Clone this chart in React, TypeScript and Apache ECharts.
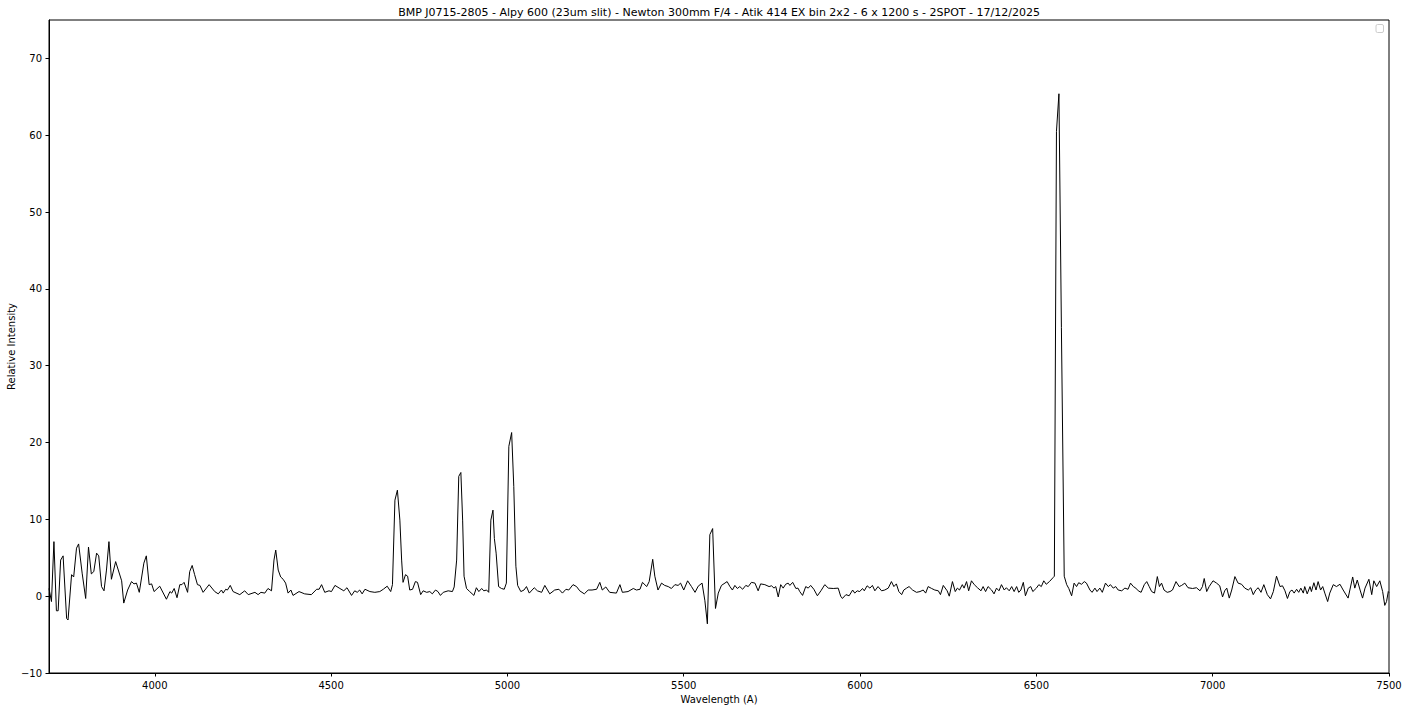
import React, { useEffect, useRef } from "react";
import * as echarts from "echarts";

const titleText =
  "BMP J0715-2805 - Alpy 600 (23um slit) - Newton 300mm F/4 - Atik 414 EX bin 2x2 - 6 x 1200 s - 2SPOT - 17/12/2025";
const xLabel = "Wavelength (A)";
const yLabel = "Relative Intensity";
const xTicks = [4000, 4500, 5000, 5500, 6000, 6500, 7000, 7500];
const yTicks = [-10, 0, 10, 20, 30, 40, 50, 60, 70];

const wavelengths = [
  3700, 3707, 3714, 3721, 3726, 3733, 3740, 3750, 3754, 3764, 3770, 3778, 3784, 3794, 3804, 3812, 3820, 3827, 3835, 3841,
  3849, 3856, 3863, 3870, 3877, 3889, 3906, 3912, 3923, 3934, 3941, 3948, 3956, 3969, 3976, 3984, 3991, 3998, 4014, 4033,
  4043, 4048, 4055, 4063, 4071, 4077, 4083, 4093, 4099, 4106, 4113, 4121, 4128, 4137, 4154, 4170, 4180, 4189, 4194, 4201,
  4206, 4214, 4222, 4241, 4255, 4265, 4284, 4293, 4301, 4312, 4321, 4331, 4338, 4343, 4350, 4357, 4364, 4371, 4378, 4386,
  4392, 4409, 4425, 4444, 4459, 4466, 4473, 4482, 4494, 4501, 4511, 4525, 4536, 4545, 4558, 4567, 4574, 4581, 4588, 4596,
  4610, 4624, 4638, 4648, 4659, 4669, 4674, 4681, 4688, 4695, 4700, 4704, 4711, 4717, 4723, 4731, 4739, 4745, 4754, 4761,
  4771, 4780, 4787, 4796, 4803, 4810, 4818, 4832, 4844, 4849, 4856, 4862, 4868, 4873, 4877, 4884, 4893, 4905, 4912, 4919,
  4927, 4933, 4941, 4947, 4953, 4959, 4963, 4968, 4975, 4983, 4991, 4997, 5004, 5012, 5018, 5024, 5029, 5038, 5047, 5054,
  5062, 5076, 5085, 5097, 5106, 5120, 5134, 5146, 5156, 5166, 5174, 5186, 5196, 5205, 5218, 5229, 5240, 5253, 5262, 5269,
  5279, 5290, 5309, 5319, 5326, 5342, 5357, 5366, 5376, 5383, 5395, 5402, 5412, 5418, 5427, 5437, 5446, 5456, 5465, 5475,
  5484, 5491, 5500, 5511, 5522, 5532, 5541, 5552, 5560, 5567, 5574, 5582, 5590, 5598, 5607, 5623, 5631, 5638, 5645, 5652,
  5659, 5667, 5676, 5683, 5692, 5702, 5711, 5718, 5730, 5742, 5749, 5756, 5761, 5768, 5775, 5782, 5789, 5796, 5801, 5809,
  5818, 5824, 5829, 5837, 5846, 5853, 5860, 5869, 5879, 5889, 5900, 5910, 5924, 5938, 5945, 5950, 5960, 5969, 5979, 5985,
  5992, 5999, 6007, 6012, 6020, 6028, 6035, 6042, 6051, 6061, 6070, 6080, 6089, 6096, 6103, 6110, 6118, 6124, 6132, 6139,
  6149, 6160, 6170, 6179, 6186, 6193, 6203, 6212, 6222, 6228, 6236, 6247, 6253, 6262, 6270, 6276, 6282, 6290, 6295, 6302,
  6308, 6316, 6324, 6333, 6343, 6349, 6356, 6363, 6373, 6380, 6387, 6394, 6401, 6409, 6415, 6423, 6430, 6437, 6444, 6450,
  6456, 6463, 6469, 6477, 6484, 6490, 6500, 6507, 6514, 6521, 6528, 6537, 6547, 6551, 6557, 6564, 6571, 6579, 6586, 6592,
  6600, 6607, 6614, 6620, 6628, 6636, 6642, 6652, 6658, 6666, 6672, 6680, 6687, 6696, 6704, 6710, 6718, 6725, 6732, 6742,
  6751, 6760, 6767, 6775, 6782, 6789, 6797, 6806, 6813, 6820, 6827, 6835, 6843, 6849, 6855, 6862, 6871, 6879, 6886, 6896,
  6905, 6912, 6921, 6930, 6943, 6954, 6964, 6971, 6976, 6983, 6990, 7001, 7011, 7020, 7028, 7034, 7040, 7047, 7054, 7063,
  7072, 7082, 7091, 7101, 7108, 7115, 7122, 7129, 7137, 7145, 7155, 7164, 7172, 7181, 7191, 7198, 7205, 7212, 7219, 7225,
  7231, 7238, 7244, 7250, 7257, 7261, 7268, 7276, 7280, 7287, 7293, 7299, 7306, 7312, 7318, 7326, 7332, 7342, 7351, 7361,
  7370, 7384, 7397, 7403, 7410, 7418, 7425, 7432, 7443, 7451, 7457, 7465, 7474, 7482, 7488, 7493, 7498, 7500,
];

const intensity = [
  1.0, -0.7, 7.1, -1.9, -1.9, 4.7, 5.25, -2.9, -3.1, 2.8, 2.5, 6.25, 6.8, 3.0, -0.3, 6.4, 2.9, 3.2, 5.6, 5.25,
  1.25, 0.7, 3.4, 7.1, 2.2, 4.5, 2.0, -0.9, 0.8, 1.9, 1.6, 1.7, 0.5, 4.3, 5.25, 1.5, 1.6, 0.6, 1.3, -0.4,
  0.6, 0.4, 1.0, -0.2, 1.5, 1.5, 1.8, 0.5, 3.2, 4.0, 2.8, 1.5, 1.4, 0.5, 1.5, 0.6, 0.3, 0.8, 0.4, 0.9,
  0.8, 1.4, 0.6, 0.2, 0.7, 0.2, 0.5, 0.2, 0.5, 0.4, 1.0, 0.7, 4.7, 6.0, 3.4, 2.5, 2.2, 1.7, 0.4, 0.8,
  0.1, 0.6, 0.3, 0.2, 0.9, 0.9, 1.5, 0.5, 0.7, 0.6, 1.4, 1.0, 0.7, 1.1, 0.1, 0.7, 0.5, 0.8, 0.3, 0.9,
  0.6, 0.5, 0.6, 0.9, 1.3, 0.6, 1.5, 12.5, 13.8, 9.9, 4.7, 1.8, 2.8, 2.6, 0.8, 0.9, 1.9, 1.8, 0.2, 0.7,
  0.5, 0.6, 0.3, 0.8, 0.6, 0.1, 0.5, 0.7, 0.6, 1.2, 4.7, 15.6, 16.1, 9.9, 2.6, 1.0, 0.6, 0.1, 1.1, 0.6,
  1.0, 0.7, 0.8, 0.5, 9.9, 11.2, 7.5, 5.6, 1.25, 1.0, 0.9, 1.7, 19.5, 21.3, 14.3, 3.9, 1.4, 0.6, 0.8, 1.25,
  0.4, 1.1, 0.7, 0.5, 1.4, 0.3, 0.8, 0.9, 0.4, 0.9, 0.8, 1.5, 1.25, 0.7, 0.3, 0.8, 0.8, 0.9, 1.8, 0.8,
  1.2, 0.5, 0.4, 1.5, 0.5, 0.6, 1.0, 0.8, 0.9, 1.8, 1.25, 1.9, 4.8, 2.6, 0.8, 1.7, 1.4, 1.25, 1.0, 1.5,
  1.4, 1.7, 0.8, 2.0, 1.25, 0.5, 1.3, 1.7, -0.6, -3.6, 8.0, 8.8, -1.6, 0.4, 1.4, 1.9, 1.25, 0.8, 1.4, 1.0,
  1.25, 0.9, 1.4, 1.25, 1.8, 1.7, 0.7, 1.6, 1.5, 1.25, 1.35, 1.05, 1.25, -0.1, 1.5, 1.05, 1.55, 1.7, 1.4, 1.8,
  1.0, 1.05, 0.6, 0.1, 1.25, 1.05, 1.4, 0.9, 0.05, 0.7, 1.5, 1.05, 1.0, 1.05, 0.0, -0.3, 0.2, 0.05, 0.8, 0.4,
  0.7, 0.6, 1.0, 0.7, 1.35, 1.05, 1.4, 0.7, 1.25, 0.7, 0.8, 1.05, 1.9, 1.25, 1.6, 0.6, 0.2, 0.8, 1.05, 1.25,
  0.8, 0.5, 0.6, 0.8, 0.4, 1.25, 1.0, 0.8, 0.7, 0.2, 1.4, 0.7, 0.0, 1.9, 0.6, 1.05, 0.8, 1.5, 1.05, 1.9,
  0.7, 2.0, 1.5, 1.1, 0.7, 1.25, 0.6, 1.25, 0.8, 0.3, 1.05, 0.7, 1.5, 0.8, 1.1, 0.7, 1.25, 0.6, 1.25, 0.5,
  0.8, 1.8, 0.05, 1.05, 1.25, 0.6, 1.05, 1.5, 1.25, 2.0, 1.55, 1.9, 2.4, 2.6, 60.5, 65.4, 35.0, 2.6, 1.5, 1.0,
  0.05, 1.7, 1.25, 1.75, 1.55, 1.9, 1.7, 0.8, 0.5, 1.05, 0.6, 1.05, 0.5, 1.7, 1.25, 1.5, 1.05, 1.25, 0.8, 0.7,
  1.05, 0.9, 1.7, 1.25, 1.05, 0.7, 0.5, 1.5, 1.9, 1.25, 0.6, 0.4, 2.55, 1.25, 1.7, 0.8, 0.5, 0.6, 0.8, 1.9,
  1.25, 1.4, 1.7, 1.1, 1.0, 1.1, 0.7, 1.25, 2.3, 0.6, 1.25, 2.0, 1.7, 1.35, -0.1, 0.7, 1.05, -0.25, 0.8, 2.55,
  1.7, 1.55, 1.05, 0.8, 1.1, 0.2, 0.8, 1.1, 0.5, 1.5, 0.2, -0.35, 0.6, 2.6, 1.25, 1.35, 0.7, -0.3, 0.6, 0.8,
  0.4, 0.9, 0.5, 1.05, 0.4, 1.25, 0.3, 1.25, 0.6, 1.75, 0.8, 1.9, 0.8, 1.25, 0.4, -0.7, 0.4, 1.5, 1.25, 1.55,
  0.8, -0.25, 2.5, 1.05, 2.1, 0.8, -0.25, 1.05, 2.2, 0.2, 2.0, 1.25, 2.0, 0.6, -1.2, -0.7, 0.6, 0.5,
];

const FONT = "DejaVu Sans";

export default function App() {
  const ref = useRef<HTMLDivElement>(null);
  useEffect(() => {
    document.body.style.margin = "0";
    const chart = echarts.init(ref.current as HTMLDivElement, null, { renderer: "svg" });
    const data = wavelengths.map((w, i) => [w, intensity[i]]);
    const plain = (v: number) => String(v).replace("-", "\u2212");
    chart.setOption({
      animation: false,
      backgroundColor: "#ffffff",
      grid: {
        left: 49,
        right: 19,
        top: 20,
        bottom: 38,
        containLabel: false,
        outerBoundsMode: "none",
        show: true,
        borderColor: "#000000",
        borderWidth: 1,
        backgroundColor: "transparent",
      },
      xAxis: {
        type: "value",
        min: 3700,
        max: 7500,
        axisLine: { show: true, onZero: false, lineStyle: { color: "#000", width: 1 } },
        axisTick: { show: true, length: 3.5, inside: false, customValues: xTicks, lineStyle: { color: "#000", width: 1 } },
        axisLabel: { customValues: xTicks, margin: 7, color: "#000", fontFamily: FONT, fontSize: 10, formatter: plain },
        splitLine: { show: false },
        name: xLabel,
        nameLocation: "middle",
        nameGap: 21,
        nameMoveOverlap: false,
        nameTextStyle: { color: "#000", fontFamily: FONT, fontSize: 10 },
      },
      yAxis: {
        type: "value",
        min: -10,
        max: 75,
        axisLine: { show: true, onZero: false, lineStyle: { color: "#000", width: 1 } },
        axisTick: { show: true, length: 3.5, inside: false, customValues: yTicks, lineStyle: { color: "#000", width: 1 } },
        axisLabel: { customValues: yTicks, margin: 7, color: "#000", fontFamily: FONT, fontSize: 10, formatter: plain },
        splitLine: { show: false },
        name: yLabel,
        nameLocation: "middle",
        nameGap: 33,
        nameMoveOverlap: false,
        nameTextStyle: { color: "#000", fontFamily: FONT, fontSize: 10 },
      },
      graphic: [
        {
          type: "text",
          x: 719,
          y: 12,
          style: {
            text: titleText,
            fill: "#000",
            font: `11px '${FONT}'`,
            textAlign: "center",
            textVerticalAlign: "middle",
          },
        },
        {
          type: "rect",
          shape: { x: 1376, y: 24.5, width: 7.5, height: 8, r: 1.5 },
          style: { fill: "#fff", stroke: "#cccccc", lineWidth: 1 },
        },
      ],
      series: [
        {
          type: "line",
          data,
          showSymbol: false,
          symbol: "none",
          smooth: false,
          clip: true,
          lineStyle: { color: "#000", width: 1 },
        },
      ],
    });
    return () => chart.dispose();
  }, []);
  return <div ref={ref} style={{ width: 1408, height: 711 }} />;
}
